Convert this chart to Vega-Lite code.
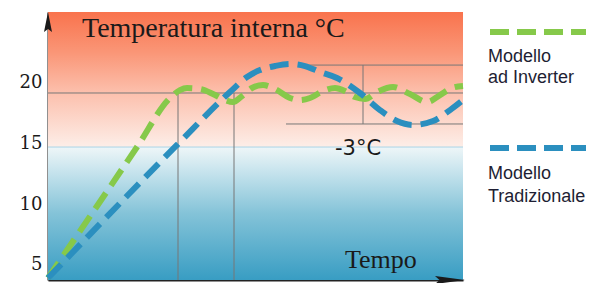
{
  "$schema": "https://vega.github.io/schema/vega-lite/v6.json",
  "width": 415,
  "height": 268,
  "autosize": {"type": "none"},
  "padding": {"left": 48, "top": 12, "right": 133, "bottom": 3},
  "background": "white",
  "config": {"view": {"stroke": null}},
  "data": {"values": [{"anchor": 1}]},
  "datasets": {
    "curves": [
      {"t": 0, "temp": 3.93, "series": "Modello ad Inverter"},
      {"t": 89, "temp": 14.67, "series": "Modello ad Inverter"},
      {"t": 122, "temp": 18.69, "series": "Modello ad Inverter"},
      {"t": 132, "temp": 19.34, "series": "Modello ad Inverter"},
      {"t": 139, "temp": 19.51, "series": "Modello ad Inverter"},
      {"t": 152, "temp": 19.43, "series": "Modello ad Inverter"},
      {"t": 165, "temp": 19.02, "series": "Modello ad Inverter"},
      {"t": 177, "temp": 18.52, "series": "Modello ad Inverter"},
      {"t": 185, "temp": 18.36, "series": "Modello ad Inverter"},
      {"t": 194, "temp": 18.85, "series": "Modello ad Inverter"},
      {"t": 204, "temp": 19.51, "series": "Modello ad Inverter"},
      {"t": 215, "temp": 19.75, "series": "Modello ad Inverter"},
      {"t": 227, "temp": 19.43, "series": "Modello ad Inverter"},
      {"t": 242, "temp": 18.69, "series": "Modello ad Inverter"},
      {"t": 252, "temp": 18.52, "series": "Modello ad Inverter"},
      {"t": 262, "temp": 18.69, "series": "Modello ad Inverter"},
      {"t": 275, "temp": 19.26, "series": "Modello ad Inverter"},
      {"t": 287, "temp": 19.51, "series": "Modello ad Inverter"},
      {"t": 297, "temp": 19.26, "series": "Modello ad Inverter"},
      {"t": 307, "temp": 18.77, "series": "Modello ad Inverter"},
      {"t": 317, "temp": 18.61, "series": "Modello ad Inverter"},
      {"t": 329, "temp": 19.18, "series": "Modello ad Inverter"},
      {"t": 345, "temp": 19.59, "series": "Modello ad Inverter"},
      {"t": 362, "temp": 19.02, "series": "Modello ad Inverter"},
      {"t": 379, "temp": 18.36, "series": "Modello ad Inverter"},
      {"t": 392, "temp": 18.93, "series": "Modello ad Inverter"},
      {"t": 404, "temp": 19.51, "series": "Modello ad Inverter"},
      {"t": 415, "temp": 19.67, "series": "Modello ad Inverter"},
      {"t": 0, "temp": 3.93, "series": "Modello Tradizionale"},
      {"t": 129, "temp": 14.84, "series": "Modello Tradizionale"},
      {"t": 182, "temp": 19.18, "series": "Modello Tradizionale"},
      {"t": 199, "temp": 20.41, "series": "Modello Tradizionale"},
      {"t": 212, "temp": 20.98, "series": "Modello Tradizionale"},
      {"t": 227, "temp": 21.31, "series": "Modello Tradizionale"},
      {"t": 242, "temp": 21.48, "series": "Modello Tradizionale"},
      {"t": 257, "temp": 21.31, "series": "Modello Tradizionale"},
      {"t": 272, "temp": 20.82, "series": "Modello Tradizionale"},
      {"t": 289, "temp": 20.33, "series": "Modello Tradizionale"},
      {"t": 312, "temp": 19.10, "series": "Modello Tradizionale"},
      {"t": 332, "temp": 17.70, "series": "Modello Tradizionale"},
      {"t": 349, "temp": 16.80, "series": "Modello Tradizionale"},
      {"t": 365, "temp": 16.48, "series": "Modello Tradizionale"},
      {"t": 385, "temp": 16.80, "series": "Modello Tradizionale"},
      {"t": 402, "temp": 17.70, "series": "Modello Tradizionale"},
      {"t": 415, "temp": 18.52, "series": "Modello Tradizionale"}
    ],
    "refs": [
      {"x": 0, "x2": 415, "y": 19.10, "y2": 19.10},
      {"x": 130, "x2": 130, "y": 19.10, "y2": 3.77},
      {"x": 186, "x2": 186, "y": 19.10, "y2": 3.77},
      {"x": 250, "x2": 415, "y": 21.39, "y2": 21.39},
      {"x": 315, "x2": 315, "y": 21.39, "y2": 16.56},
      {"x": 238, "x2": 415, "y": 16.56, "y2": 16.56}
    ],
    "legendLines": [
      {"x": 442, "x2": 538, "y": 24.10, "series": "Modello ad Inverter"},
      {"x": 442, "x2": 538, "y": 14.59, "series": "Modello Tradizionale"}
    ],
    "legendText": [
      {"x": 440, "y": 21.64, "label": "Modello"},
      {"x": 440, "y": 19.92, "label": "ad Inverter"},
      {"x": 440, "y": 12.05, "label": "Modello"},
      {"x": 440, "y": 10.16, "label": "Tradizionale"}
    ]
  },
  "layer": [
    {
      "mark": {"type": "rect", "color": {"gradient": "linear", "x1": 0, "y1": 0, "x2": 0, "y2": 1, "stops": [{"offset": 0, "color": "#f9734d"}, {"offset": 0.3, "color": "#fa9677"}, {"offset": 0.6, "color": "#fcc0ad"}, {"offset": 1, "color": "#fdeee8"}]}},
      "encoding": {
        "x": {"datum": 0, "type": "quantitative", "scale": {"domain": [0, 415], "nice": false, "zero": false}, "axis": {"title": null, "labels": false, "ticks": false, "grid": false, "domain": true, "domainColor": "#222222", "domainWidth": 2}},
        "x2": {"datum": 415},
        "y": {"datum": 25.74, "type": "quantitative", "scale": {"domain": [3.77, 25.74], "nice": false, "zero": false}, "axis": {"title": null, "values": [5, 10, 15, 20], "ticks": false, "grid": false, "domainColor": "#222222", "domainWidth": 2, "labelFont": "DejaVu Serif", "labelFontSize": 18, "labelColor": "#1a1a1a", "labelPadding": 6, "labelBaseline": "middle"}},
        "y2": {"datum": 14.67}
      }
    },
    {
      "mark": {"type": "rect", "color": {"gradient": "linear", "x1": 0, "y1": 0, "x2": 0, "y2": 1, "stops": [{"offset": 0, "color": "#eef6f8"}, {"offset": 0.25, "color": "#b9dde9"}, {"offset": 0.5, "color": "#84c3d8"}, {"offset": 1, "color": "#389dc3"}]}},
      "encoding": {
        "x": {"datum": 0, "type": "quantitative", "scale": {"domain": [0, 415]}},
        "x2": {"datum": 415},
        "y": {"datum": 14.67, "type": "quantitative", "scale": {"domain": [3.77, 25.74]}},
        "y2": {"datum": 3.77}
      }
    },
    {
      "mark": {"type": "rule", "color": "#a9d4e6", "strokeWidth": 1},
      "encoding": {
        "x": {"datum": 0, "type": "quantitative", "scale": {"domain": [0, 415]}},
        "x2": {"datum": 415},
        "y": {"datum": 14.67, "type": "quantitative", "scale": {"domain": [3.77, 25.74]}}
      }
    },
    {
      "data": {"name": "refs"},
      "mark": {"type": "rule", "color": "#777777", "strokeWidth": 1},
      "encoding": {
        "x": {"field": "x", "type": "quantitative", "scale": {"domain": [0, 415]}},
        "x2": {"field": "x2"},
        "y": {"field": "y", "type": "quantitative", "scale": {"domain": [3.77, 25.74]}},
        "y2": {"field": "y2"}
      }
    },
    {
      "data": {"name": "curves"},
      "mark": {"type": "line", "strokeWidth": 6, "strokeDash": [19, 9], "interpolate": "monotone", "strokeCap": "butt"},
      "encoding": {
        "x": {"field": "t", "type": "quantitative", "scale": {"domain": [0, 415]}},
        "y": {"field": "temp", "type": "quantitative", "scale": {"domain": [3.77, 25.74]}},
        "color": {"field": "series", "type": "nominal", "scale": {"domain": ["Modello ad Inverter", "Modello Tradizionale"], "range": ["#86c94a", "#2b8fbf"]}, "legend": null}
      }
    },
    {
      "data": {"name": "legendLines"},
      "mark": {"type": "rule", "strokeWidth": 6, "strokeDash": [19, 8], "strokeCap": "butt"},
      "encoding": {
        "x": {"field": "x", "type": "quantitative", "scale": {"domain": [0, 415]}},
        "x2": {"field": "x2"},
        "y": {"field": "y", "type": "quantitative", "scale": {"domain": [3.77, 25.74]}},
        "color": {"field": "series", "type": "nominal", "legend": null}
      }
    },
    {
      "data": {"name": "legendText"},
      "mark": {"type": "text", "align": "left", "baseline": "alphabetic", "font": "Liberation Sans", "fontSize": 18, "color": "#1e1e33"},
      "encoding": {
        "x": {"field": "x", "type": "quantitative", "scale": {"domain": [0, 415]}},
        "y": {"field": "y", "type": "quantitative", "scale": {"domain": [3.77, 25.74]}},
        "text": {"field": "label"}
      }
    },
    {
      "mark": {"type": "text", "align": "left", "baseline": "alphabetic", "font": "Liberation Serif", "fontSize": 28, "color": "#1a1a1a"},
      "encoding": {
        "x": {"datum": 34, "type": "quantitative", "scale": {"domain": [0, 415]}},
        "y": {"datum": 23.69, "type": "quantitative", "scale": {"domain": [3.77, 25.74]}},
        "text": {"value": "Temperatura interna °C"}
      }
    },
    {
      "mark": {"type": "text", "align": "left", "baseline": "alphabetic", "font": "Liberation Serif", "fontSize": 26, "color": "#1a1a1a"},
      "encoding": {
        "x": {"datum": 297, "type": "quantitative", "scale": {"domain": [0, 415]}},
        "y": {"datum": 4.75, "type": "quantitative", "scale": {"domain": [3.77, 25.74]}},
        "text": {"value": "Tempo"}
      }
    },
    {
      "mark": {"type": "text", "align": "left", "baseline": "alphabetic", "font": "DejaVu Sans", "fontSize": 21, "color": "#1a1a1a"},
      "encoding": {
        "x": {"datum": 287, "type": "quantitative", "scale": {"domain": [0, 415]}},
        "y": {"datum": 14.02, "type": "quantitative", "scale": {"domain": [3.77, 25.74]}},
        "text": {"value": "-3°C"}
      }
    },
    {
      "mark": {"type": "point", "filled": true, "opacity": 1, "color": "#1a1a1a", "size": 400, "shape": "M0,-1L0.4,1L0,0.7L-0.4,1Z"},
      "encoding": {
        "x": {"datum": 0, "type": "quantitative", "scale": {"domain": [0, 415]}},
        "y": {"datum": 24.92, "type": "quantitative", "scale": {"domain": [3.77, 25.74]}}
      }
    },
    {
      "mark": {"type": "point", "filled": true, "opacity": 1, "color": "#1a1a1a", "size": 900, "shape": "M1,0L-1,-0.27L-0.7,0L-1,0.27Z"},
      "encoding": {
        "x": {"datum": 402, "type": "quantitative", "scale": {"domain": [0, 415]}},
        "y": {"datum": 3.77, "type": "quantitative", "scale": {"domain": [3.77, 25.74]}}
      }
    }
  ]
}
